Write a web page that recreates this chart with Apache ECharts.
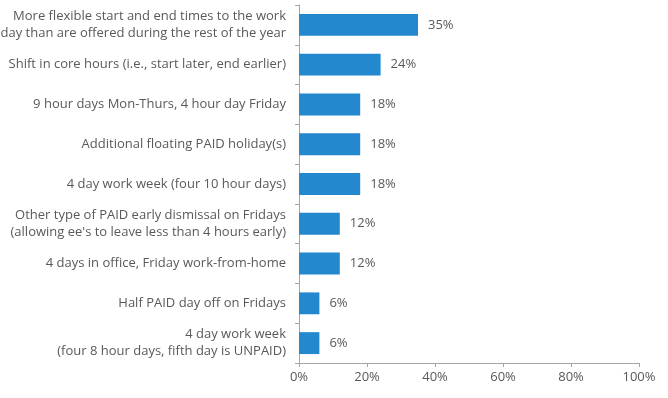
<!DOCTYPE html>
<html>
<head>
<meta charset="utf-8">
<script src="https://cdn.jsdelivr.net/npm/echarts@6/dist/echarts.min.js"></script>
<style>
  html, body { margin: 0; padding: 0; background: #fff; }
  #main { width: 668px; height: 398px; }
</style>
</head>
<body>
<div id="main"></div>
<script>
var categories = [
    'More flexible start and end times to the work\nday than are offered during the rest of the year',
    'Shift in core hours (i.e., start later, end earlier)',
    '9 hour days Mon-Thurs, 4 hour day Friday',
    'Additional floating PAID holiday(s)',
    '4 day work week (four 10 hour days)',
    'Other type of PAID early dismissal on Fridays\n(allowing ee\'s to leave less than 4 hours early)',
    '4 days in office, Friday work-from-home',
    'Half PAID day off on Fridays',
    '4 day work week\n(four 8 hour days, fifth day is UNPAID)'
];
var values = [35, 24, 18, 18, 18, 12, 12, 6, 6];
var xTicks = [0, 20, 40, 60, 80, 100];

var chartDom = document.getElementById('main');
var myChart = echarts.init(chartDom);

var textFont = '"Open Sans", Lato, sans-serif';

var option = {
    animation: false,
    grid: {
        left: 299,
        right: 29,
        top: 5,
        bottom: 35,
        outerBoundsMode: 'none'
    },
    xAxis: {
        type: 'value',
        min: xTicks[0],
        max: xTicks[xTicks.length - 1],
        interval: 20,
        splitLine: { show: false },
        axisLine: { show: true, lineStyle: { color: '#a6a6a6', width: 1 } },
        axisTick: { show: true, length: 4, lineStyle: { color: '#a6a6a6' } },
        axisLabel: {
            color: '#595959',
            fontSize: 13,
            fontFamily: textFont,
            margin: 8,
            formatter: '{value}%'
        }
    },
    yAxis: {
        type: 'category',
        inverse: true,
        data: categories,
        axisLine: { show: true, lineStyle: { color: '#a6a6a6', width: 1 } },
        axisTick: { show: true, length: 4, lineStyle: { color: '#a6a6a6' } },
        axisLabel: {
            color: '#595959',
            fontSize: 13,
            fontFamily: textFont,
            lineHeight: 17,
            margin: 13,
            align: 'right'
        }
    },
    series: [
        {
            type: 'bar',
            data: values,
            barCategoryGap: '45%',
            itemStyle: { color: '#2388cd' },
            label: {
                show: true,
                position: 'right',
                distance: 10,
                color: '#595959',
                fontSize: 13,
                fontFamily: textFont,
                formatter: '{c}%'
            }
        }
    ]
};

myChart.setOption(option);
</script>
</body>
</html>
